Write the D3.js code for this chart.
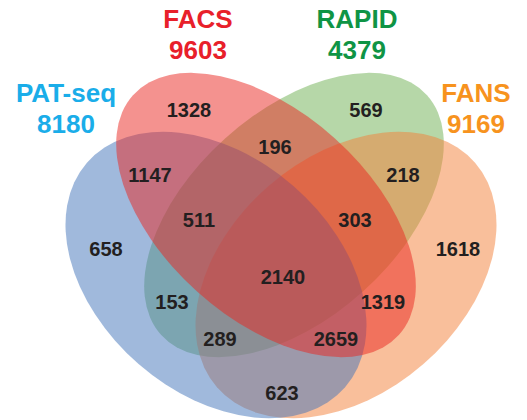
<!DOCTYPE html>
<html>
<head>
<meta charset="utf-8">
<script src="https://cdn.jsdelivr.net/npm/d3@7"></script>
<style>
  body { margin: 0; background: #fff; }
  text { font-family: "Liberation Sans", Arial, sans-serif; font-weight: bold; }
</style>
</head>
<body>
<div id="chart"></div>
<script>
// sets and their totals
const setNames = ['PAT-seq', 'FACS', 'RAPID', 'FANS'];
const setTotals = [8180, 9603, 4379, 9169];

// region counts (P = PAT-seq, F = FACS, R = RAPID, N = FANS)
const regionKeys = ['P', 'F', 'R', 'N', 'PF', 'FR', 'RN', 'PN', 'PR', 'FN', 'PFR', 'FRN', 'PRN', 'PFN', 'PFRN'];
const regionCounts = [658, 1328, 569, 1618, 1147, 196, 218, 623, 153, 1319, 511, 303, 289, 2659, 2140];

// layout (diagram units, centred on the symmetry axis)
const ellipseLayout = {
    'PAT-seq': {cx: -64, cy: 29, rx: 171, ry: 118, angle: 41},
    'FACS':    {cx: -14, cy: -31, rx: 179, ry: 103, angle: 42},
    'RAPID':   {cx: 14, cy: -31, rx: 179, ry: 103, angle: -42},
    'FANS':    {cx: 66, cy: 29, rx: 171, ry: 118, angle: -41}
};
const drawOrder = ['RAPID', 'FANS', 'PAT-seq', 'FACS'];

const regionAnchors = {
    P: [-174, 10], F: [-91, -129], R: [86, -129], N: [178, 10],
    PF: [-130, -64], FR: [-5, -92], RN: [123, -64], PN: [2, 154],
    PR: [-108, 63], FN: [103, 63],
    PFR: [-81, -19], FRN: [75, -19], PRN: [-60, 100], PFN: [56, 100],
    PFRN: [3, 38]
};
const titleAnchors = {
    'PAT-seq': [-214, -144], 'FACS': [-82, -218], 'RAPID': [77, -218], 'FANS': [196, -144]
};

const setColors = {'PAT-seq': '#4173b9', 'FACS': '#e9251f', 'RAPID': '#6daf51', 'FANS': '#f37f37'};
const titleColors = {'PAT-seq': '#1aade9', 'FACS': '#e8202a', 'RAPID': '#0f9445', 'FANS': '#f7931e'};

const width = 527;
const height = 420;

const x = d3.scaleLinear().domain([-280, 247]).range([0, width]);
const y = d3.scaleLinear().domain([-246, 174]).range([0, height]);

const svg = d3.select('#chart')
    .append('svg')
    .attr('width', width)
    .attr('height', height);

svg.append('g')
    .selectAll('ellipse')
    .data(drawOrder)
    .enter()
    .append('ellipse')
    .attr('transform', function(d) {
        let e = ellipseLayout[d];
        return 'translate(' + x(e.cx) + ',' + y(e.cy) + ') rotate(' + e.angle + ')';
    })
    .attr('rx', function(d) { return x(ellipseLayout[d].rx) - x(0); })
    .attr('ry', function(d) { return y(ellipseLayout[d].ry) - y(0); })
    .attr('fill', function(d) { return setColors[d]; })
    .attr('fill-opacity', 0.5);

// region counts
svg.append('g')
    .selectAll('text')
    .data(regionKeys)
    .enter()
    .append('text')
    .attr('x', function(d) { return x(regionAnchors[d][0]); })
    .attr('y', function(d) { return y(regionAnchors[d][1]); })
    .attr('text-anchor', 'middle')
    .attr('font-size', '20px')
    .attr('fill', '#231f20')
    .text(function(d, i) { return regionCounts[i]; });

// set titles
let titles = svg.append('g')
    .selectAll('text')
    .data(setNames)
    .enter()
    .append('text')
    .attr('x', function(d) { return x(titleAnchors[d][0]); })
    .attr('y', function(d) { return y(titleAnchors[d][1]); })
    .attr('text-anchor', 'middle')
    .attr('font-size', '26px')
    .attr('fill', function(d) { return titleColors[d]; });

titles.append('tspan')
    .text(function(d) { return d; });
titles.append('tspan')
    .attr('x', function(d) { return x(titleAnchors[d][0]); })
    .attr('dy', 31)
    .text(function(d, i) { return setTotals[i]; });
</script>
</body>
</html>
